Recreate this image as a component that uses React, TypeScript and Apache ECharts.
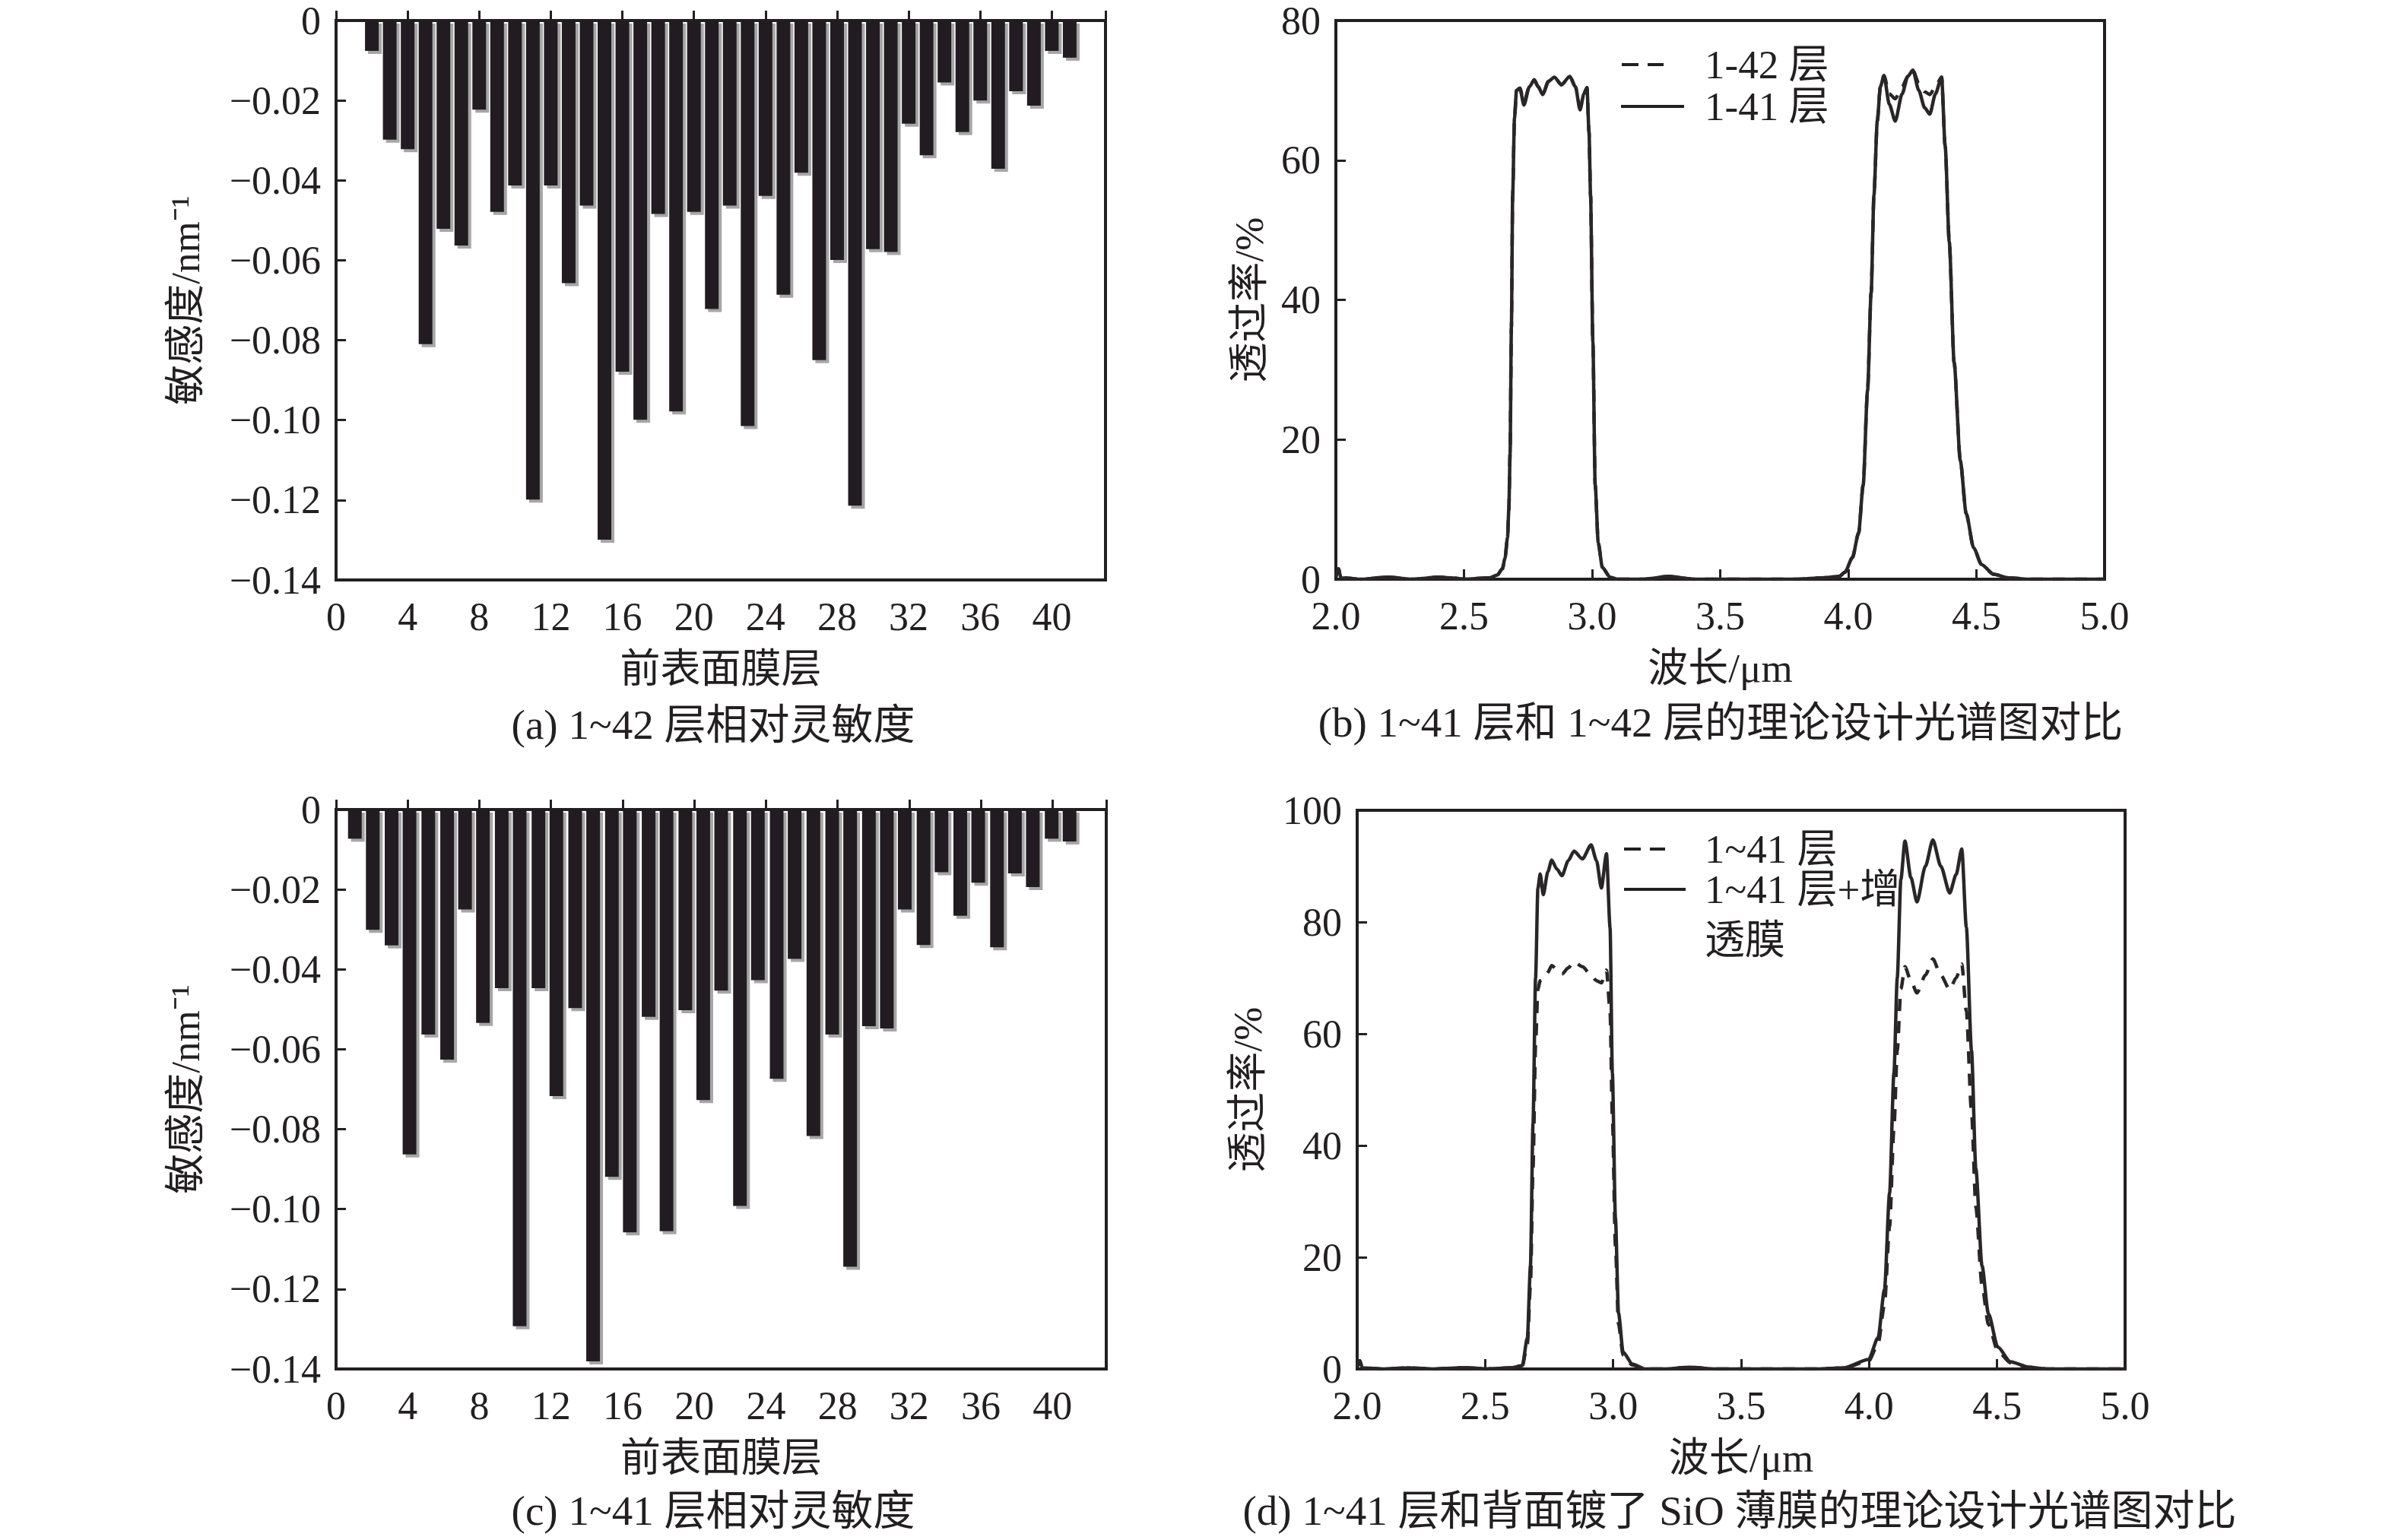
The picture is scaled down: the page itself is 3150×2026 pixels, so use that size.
import { useEffect, useRef } from 'react';
import * as echarts from 'echarts';

// (a) relative sensitivity, layers 1~42
const layersA = [2, 3, 4, 5, 6, 7, 8, 9, 10, 11, 12, 13, 14, 15, 16, 17, 18, 19, 20, 21, 22, 23, 24, 25, 26, 27, 28, 29, 30, 31, 32, 33, 34, 35, 36, 37, 38, 39, 40, 41];
const sensA = [-0.0076, -0.0298, -0.0322, -0.081, -0.0521, -0.0563, -0.0223, -0.0479, -0.0413, -0.1199, -0.0413, -0.0657, -0.0463, -0.1299, -0.0879, -0.0999, -0.0484, -0.0978, -0.0479, -0.0722, -0.0463, -0.1015, -0.0439, -0.0686, -0.0381, -0.085, -0.0599, -0.1214, -0.0572, -0.0579, -0.0258, -0.0337, -0.0155, -0.0279, -0.02, -0.0371, -0.0177, -0.0213, -0.0076, -0.0093];

// (c) relative sensitivity, layers 1~41 (bar positions as drawn in the figure)
const layersC = [1.05, 2.05, 3.1, 4.1, 5.15, 6.2, 7.2, 8.2, 9.25, 10.25, 11.3, 12.3, 13.35, 14.35, 15.4, 16.4, 17.45, 18.45, 19.5, 20.5, 21.5, 22.55, 23.55, 24.6, 25.6, 26.65, 27.7, 28.7, 29.75, 30.75, 31.75, 32.8, 33.8, 34.85, 35.85, 36.9, 37.9, 38.9, 39.95, 40.95];
const sensC = [-0.0073, -0.0301, -0.034, -0.0863, -0.0563, -0.0626, -0.025, -0.0534, -0.0447, -0.1293, -0.0447, -0.0717, -0.0497, -0.1381, -0.0919, -0.1058, -0.0519, -0.1055, -0.0502, -0.0727, -0.0453, -0.0992, -0.0427, -0.0674, -0.0374, -0.0817, -0.0563, -0.1144, -0.0542, -0.0548, -0.025, -0.0339, -0.0157, -0.0266, -0.0183, -0.0345, -0.016, -0.0194, -0.0073, -0.008];

// (b) spectra 1-42 vs 1-41
const wlB = [2.0, 2.01, 2.02, 2.1, 2.2, 2.3, 2.4, 2.45, 2.5, 2.6, 2.63, 2.65, 2.66, 2.67, 2.675, 2.68, 2.685, 2.69, 2.697, 2.705, 2.718, 2.734, 2.755, 2.774, 2.79, 2.807, 2.83, 2.853, 2.88, 2.913, 2.935, 2.953, 2.968, 2.98, 2.988, 2.994, 3.003, 3.012, 3.024, 3.04, 3.07, 3.1, 3.2, 3.3, 3.4, 3.6, 3.8, 3.9, 3.964, 3.987, 4.016, 4.04, 4.058, 4.075, 4.089, 4.1, 4.113, 4.125, 4.139, 4.16, 4.183, 4.21, 4.232, 4.252, 4.275, 4.298, 4.318, 4.34, 4.364, 4.378, 4.394, 4.413, 4.437, 4.46, 4.489, 4.52, 4.567, 4.626, 4.7, 4.8, 5.0];
const t41B = [0.3, 1.5, 0.2, 0, 0.3, 0, 0.3, 0.2, 0, 0.2, 0.6, 1.5, 3, 6, 10, 18, 36, 55, 66, 70, 70.3, 67.9, 70.5, 71.5, 70.5, 69.4, 71.3, 71.9, 70.8, 72.0, 70.5, 67.2, 69.5, 70.4, 64, 55, 34, 13.5, 5.2, 1.7, 0.3, 0, 0, 0.4, 0, 0, 0, 0.2, 0.4, 1, 3.1, 6.6, 13.5, 27, 41, 55, 65.6, 70.5, 72.1, 68, 65.6, 69.5, 72, 72.9, 70, 67.5, 66.6, 69.5, 71.9, 62, 48.3, 31, 17, 9.4, 4.5, 2.1, 0.7, 0.2, 0, 0, 0];
const t42B = [0.3, 1.5, 0.2, 0, 0.3, 0, 0.3, 0.2, 0, 0.2, 0.6, 1.5, 3, 6, 10, 18, 36, 55, 66, 70, 70.3, 68.3, 70.5, 71.5, 70.5, 69.4, 71.3, 71.9, 70.8, 72.0, 70.5, 67.6, 69.5, 70.4, 64, 55, 34, 13.5, 5.2, 1.7, 0.3, 0, 0, 0.4, 0, 0, 0, 0.2, 0.4, 1, 3.1, 6.6, 13.5, 27, 41, 55, 65.6, 70.5, 72.1, 69.5, 68.8, 70.5, 72, 72.9, 71, 69.8, 69.4, 70.5, 71.9, 62, 48.3, 31, 17, 9.4, 4.5, 2.1, 0.7, 0.2, 0, 0, 0];

// (d) spectra 1~41 vs 1~41 + AR film
const wlD = [2.0, 2.01, 2.02, 2.1, 2.2, 2.3, 2.4, 2.45, 2.5, 2.6, 2.645, 2.665, 2.677, 2.687, 2.697, 2.706, 2.715, 2.727, 2.745, 2.76, 2.78, 2.8, 2.825, 2.847, 2.88, 2.914, 2.935, 2.954, 2.974, 2.988, 2.997, 3.009, 3.021, 3.039, 3.075, 3.125, 3.2, 3.3, 3.4, 3.6, 3.8, 3.9, 3.998, 4.035, 4.06, 4.08, 4.097, 4.11, 4.124, 4.14, 4.163, 4.187, 4.22, 4.249, 4.28, 4.315, 4.34, 4.362, 4.38, 4.4, 4.417, 4.441, 4.466, 4.503, 4.552, 4.626, 4.7, 4.8, 5.0];
const t41D = [0.3, 1.5, 0.2, 0, 0.2, 0, 0.2, 0.2, 0, 0.2, 0.5, 4.5, 15, 36, 58, 68, 69.5, 69.7, 71, 72.2, 71.5, 70.7, 71.8, 72.9, 72, 70.5, 69.5, 69.1, 71.4, 64, 45, 22, 8, 2.5, 0.7, 0, 0, 0.3, 0, 0, 0, 0.2, 1.4, 4.5, 11.5, 25.5, 43, 57, 68, 72.0, 69.5, 67.3, 70.5, 73.4, 70.5, 67.9, 70, 72.5, 64, 46, 29, 15, 8, 3.2, 1.1, 0.3, 0, 0, 0];
const tArD = [0.3, 1.5, 0.2, 0, 0.2, 0, 0.2, 0.2, 0, 0.2, 0.6, 5.6, 18.5, 44, 70, 86, 88.6, 84.9, 89, 91.1, 89.5, 88.3, 91, 92.7, 91.3, 93.8, 91, 86.1, 92.2, 79, 53, 27, 10, 3, 0.9, 0, 0, 0.3, 0, 0, 0, 0.2, 1.7, 5.6, 14.2, 31.5, 53, 70, 87.6, 94.5, 88, 83.6, 90, 94.7, 90, 85.2, 88.5, 93.1, 79, 57, 35.8, 18.5, 9.9, 3.9, 1.3, 0.3, 0, 0, 0];

const font = "'Liberation Serif', 'Times New Roman', 'Noto Sans CJK SC', serif";
const ink = '#231f20';

const pairs = (xs: number[], ys: number[]) => xs.map((x, i) => [x, ys[i]]);

const tickStyle = { inside: true, length: 13, lineStyle: { color: ink, width: 3 } };
const labelStyle = { fontSize: 52, fontFamily: font, color: ink };
const nameStyle = { fontSize: 53, fontFamily: font, color: ink };

function sensXAxis(gridIndex: number) {
  return {
    gridIndex,
    type: 'value',
    min: 0,
    max: 43,
    interval: 4,
    axisLine: { show: false },
    axisTick: tickStyle,
    splitLine: { show: false },
    axisLabel: { ...labelStyle, margin: 22, formatter: (v: number) => (v % 4 === 0 ? String(v) : '') },
    name: '前表面膜层',
    nameLocation: 'middle',
    nameGap: 90,
    nameTextStyle: nameStyle,
  };
}

function sensYAxis(gridIndex: number) {
  return {
    gridIndex,
    type: 'value',
    min: -0.14,
    max: 0,
    interval: 0.02,
    axisLine: { show: false },
    axisTick: tickStyle,
    splitLine: { show: false },
    axisLabel: {
      ...labelStyle,
      margin: 20,
      formatter: (v: number) => (Math.abs(v) < 1e-9 ? '0' : '\u2212' + Math.abs(v).toFixed(2)),
    },
    name: '敏感度/nm⁻¹',
    nameLocation: 'middle',
    nameGap: 172,
    nameTextStyle: nameStyle,
  };
}

function wlXAxis(gridIndex: number) {
  return {
    gridIndex,
    type: 'value',
    min: 2,
    max: 5,
    interval: 0.5,
    axisLine: { show: false },
    axisTick: tickStyle,
    splitLine: { show: false },
    axisLabel: { ...labelStyle, margin: 22, formatter: (v: number) => v.toFixed(1) },
    name: '波长/μm',
    nameLocation: 'middle',
    nameGap: 90,
    nameTextStyle: nameStyle,
  };
}

function transYAxis(gridIndex: number, max: number, gap: number) {
  return {
    gridIndex,
    type: 'value',
    min: 0,
    max,
    interval: 20,
    axisLine: { show: false },
    axisTick: tickStyle,
    splitLine: { show: false },
    axisLabel: { ...labelStyle, margin: 20 },
    name: '透过率/%',
    nameLocation: 'middle',
    nameGap: gap,
    nameTextStyle: nameStyle,
  };
}

function barSeries(idx: number, xs: number[], ys: number[]) {
  return {
    type: 'bar',
    xAxisIndex: idx,
    yAxisIndex: idx,
    data: pairs(xs, ys),
    barWidth: 18,
    itemStyle: {
      color: ink,
      shadowColor: 'rgba(0,0,0,0.35)',
      shadowOffsetX: 4,
      shadowOffsetY: 4,
      shadowBlur: 0,
    },
  };
}

function lineSeries(idx: number, name: string, xs: number[], ys: number[], dashed: boolean) {
  return {
    type: 'line',
    name,
    xAxisIndex: idx,
    yAxisIndex: idx,
    data: pairs(xs, ys),
    showSymbol: false,
    smooth: 0.25,
    smoothMonotone: 'x',
    clip: true,
    lineStyle: { color: '#2a2627', width: 4.5, type: dashed ? [16, 13] : 'solid' },
  };
}

function txt(x: number, y: number, text: string, size: number, align = 'center') {
  return {
    type: 'text',
    x,
    y,
    style: {
      text,
      fontSize: size,
      fontFamily: font,
      fill: ink,
      align,
      verticalAlign: 'middle',
      textAlign: align,
      textVerticalAlign: 'middle',
    },
  };
}

function legendLine(x1: number, x2: number, y: number, dashed: boolean) {
  return {
    type: 'line',
    shape: { x1, y1: y, x2, y2: y },
    style: { stroke: ink, lineWidth: 4, lineDash: dashed ? [22, 12] : null },
  };
}

export default function App() {
  const chartRef = useRef<HTMLDivElement>(null);

  useEffect(() => {
    if (!chartRef.current) return;
    const chart = echarts.init(chartRef.current, undefined, { renderer: 'svg' });

    const border = { show: true, borderColor: ink, borderWidth: 4, backgroundColor: 'transparent' };

    const option: any = {
      animation: false,
      backgroundColor: '#ffffff',
      grid: [
        { left: 442, top: 27, width: 1012, height: 736, ...border },
        { left: 1757, top: 27, width: 1011, height: 735, ...border },
        { left: 442, top: 1065, width: 1013, height: 736, ...border },
        { left: 1785, top: 1066, width: 1010, height: 735, ...border },
      ],
      xAxis: [sensXAxis(0), wlXAxis(1), sensXAxis(2), wlXAxis(3)],
      yAxis: [sensYAxis(0), transYAxis(1, 80, 88), sensYAxis(2), transYAxis(3, 100, 118)],
      series: [
        barSeries(0, layersA, sensA),
        lineSeries(1, '1-42 层', wlB, t42B, true),
        lineSeries(1, '1-41 层', wlB, t41B, false),
        barSeries(2, layersC, sensC),
        lineSeries(3, '1~41 层', wlD, t41D, true),
        lineSeries(3, '1~41 层+增透膜', wlD, tArD, false),
      ],
      graphic: [
        txt(938, 953, '(a) 1~42 层相对灵敏度', 55),
        txt(2263, 950, '(b) 1~41 层和 1~42 层的理论设计光谱图对比', 55),
        txt(938, 1987, '(c) 1~41 层相对灵敏度', 55),
        txt(2288, 1987, '(d) 1~41 层和背面镀了 SiO 薄膜的理论设计光谱图对比', 55),
        legendLine(2133, 2188, 85, true),
        legendLine(2132, 2215, 140, false),
        txt(2242, 85, '1-42 层', 53, 'left'),
        txt(2242, 140, '1-41 层', 53, 'left'),
        legendLine(2136, 2190, 1117, true),
        legendLine(2136, 2217, 1170, false),
        txt(2242, 1117, '1~41 层', 53, 'left'),
        txt(2242, 1170, '1~41 层+增', 53, 'left'),
        txt(2242, 1237, '透膜', 53, 'left'),
      ],
    };

    chart.setOption(option);

    return () => {
      chart.dispose();
    };
  }, []);

  return (
    <div
      ref={chartRef}
      style={{ position: 'absolute', left: 0, top: 0, width: 3150, height: 2026, background: '#fff' }}
    />
  );
}
